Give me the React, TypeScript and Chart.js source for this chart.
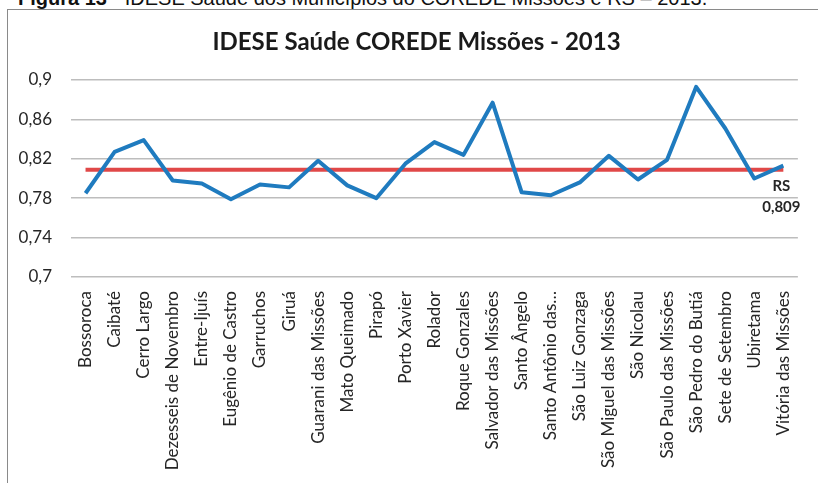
import React, { useEffect, useRef } from "react";
import { Chart, registerables } from "chart.js";

Chart.register(...registerables);

const CAPTION_BOLD = "Figura 13";
const CAPTION_REST = " - IDESE Saúde dos Municípios do COREDE Missões e RS – 2013.";
const TITLE = "IDESE Saúde COREDE Missões - 2013";

const municipios = [
  "Bossoroca",
  "Caibaté",
  "Cerro Largo",
  "Dezesseis de Novembro",
  "Entre-Ijuís",
  "Eugênio de Castro",
  "Garruchos",
  "Giruá",
  "Guarani das Missões",
  "Mato Queimado",
  "Pirapó",
  "Porto Xavier",
  "Rolador",
  "Roque Gonzales",
  "Salvador das Missões",
  "Santo Ângelo",
  "Santo Antônio das…",
  "São Luiz Gonzaga",
  "São Miguel das Missões",
  "São Nicolau",
  "São Paulo das Missões",
  "São Pedro do Butiá",
  "Sete de Setembro",
  "Ubiretama",
  "Vitória das Missões",
];

const ideseSaude = [
  0.785, 0.827, 0.839, 0.798, 0.795, 0.779, 0.794, 0.791, 0.818, 0.793,
  0.78, 0.815, 0.837, 0.824, 0.877, 0.786, 0.783, 0.796, 0.823, 0.799,
  0.819, 0.893, 0.851, 0.8, 0.813,
];

const rsLine = [
  0.809, 0.809, 0.809, 0.809, 0.809, 0.809, 0.809, 0.809, 0.809, 0.809,
  0.809, 0.809, 0.809, 0.809, 0.809, 0.809, 0.809, 0.809, 0.809, 0.809,
  0.809, 0.809, 0.809, 0.809, 0.809,
];

const RS_LABEL = "RS";
const RS_VALUE_LABEL = "0,809";

const Y_MIN = 0.7;
const Y_MAX = 0.9;
const Y_STEP = 0.04;

const FONT = "Lato, 'Open Sans', sans-serif";

export default function App() {
  const canvasRef = useRef<HTMLCanvasElement | null>(null);

  useEffect(() => {
    if (!canvasRef.current) return;

    const rsLabelPlugin = {
      id: "rsLabel",
      afterDatasetsDraw(chart: any) {
        const xs = chart.scales.x;
        const ys = chart.scales.y;
        const last = rsLine.length - 1;
        const x = xs.getPixelForValue(last) - 2;
        const y = ys.getPixelForValue(rsLine[last]);
        const ctx = chart.ctx;
        ctx.save();
        ctx.fillStyle = "#262626";
        ctx.font = `bold 15px ${FONT}`;
        ctx.textAlign = "center";
        ctx.textBaseline = "middle";
        ctx.fillText(RS_LABEL, x, y + 17);
        ctx.fillText(RS_VALUE_LABEL, x, y + 38);
        ctx.restore();
      },
    };

    const chart = new Chart(canvasRef.current, {
      type: "line",
      data: {
        labels: municipios,
        datasets: [
          {
            label: "IDESE Saúde",
            data: ideseSaude,
            borderColor: "#1f7bbf",
            borderWidth: 4,
            pointRadius: 0,
            tension: 0,
            borderJoinStyle: "round",
            fill: false,
            yAxisID: "y",
          },
          {
            label: "RS",
            data: rsLine,
            borderColor: "#e04848",
            borderWidth: 4,
            pointRadius: 0,
            tension: 0,
            fill: false,
            yAxisID: "y",
          },
        ],
      },
      options: {
        animation: false,
        responsive: false,
        maintainAspectRatio: false,
        layout: { padding: { top: 0, left: 15, right: 0, bottom: 0 } },
        plugins: {
          legend: { display: false },
          tooltip: { enabled: false },
          title: {
            display: true,
            text: TITLE,
            color: "#1a1a1a",
            font: { family: FONT, size: 24, weight: "bold", lineHeight: 1.2 },
            padding: { top: 28, bottom: 23.2 },
          },
        },
        scales: {
          x: {
            offset: true,
            grid: { display: false, drawTicks: false },
            border: { display: false },
            ticks: {
              autoSkip: false,
              minRotation: 90,
              maxRotation: 90,
              padding: 14,
              color: "#262626",
              font: { family: FONT, size: 17 },
            },
            afterFit(scale: any) {
              scale.height = 206;
            },
          },
          y: {
            position: "left",
            min: Y_MIN,
            max: Y_MAX,
            grid: { color: "#bdbdbd", lineWidth: 1.5, drawTicks: false },
            border: { display: false },
            ticks: {
              stepSize: Y_STEP,
              padding: 19,
              color: "#262626",
              font: { family: FONT, size: 17 },
              callback: (v: any) => String(Number(Number(v).toFixed(2))).replace(".", ","),
            },
            afterFit(scale: any) {
              scale.width = 56;
            },
          },
          yRight: {
            position: "right",
            display: true,
            min: Y_MIN,
            max: Y_MAX,
            grid: { display: false, drawTicks: false },
            border: { display: false },
            ticks: { display: false },
            afterFit(scale: any) {
              scale.width = 13;
            },
          },
        },
      },
      plugins: [rsLabelPlugin],
    });

    return () => chart.destroy();
  }, []);

  return (
    <div
      style={{
        position: "fixed",
        left: 0,
        top: 0,
        width: 818,
        height: 483,
        overflow: "hidden",
        background: "#ffffff",
      }}
    >
      <div
        style={{
          position: "absolute",
          left: 18,
          top: -12,
          whiteSpace: "nowrap",
          fontFamily: "'Liberation Sans', Arial, sans-serif",
          fontSize: 20,
          lineHeight: "20px",
          color: "#111",
        }}
      >
        <b>{CAPTION_BOLD}</b>
        {CAPTION_REST}
      </div>
      <div
        style={{
          position: "absolute",
          left: 7,
          top: 9,
          width: 900,
          height: 600,
          border: "1px solid #8a8a8a",
        }}
      />
      <canvas
        ref={canvasRef}
        width={818}
        height={483}
        style={{ position: "absolute", left: 0, top: 0, width: 818, height: 483 }}
      />
    </div>
  );
}
